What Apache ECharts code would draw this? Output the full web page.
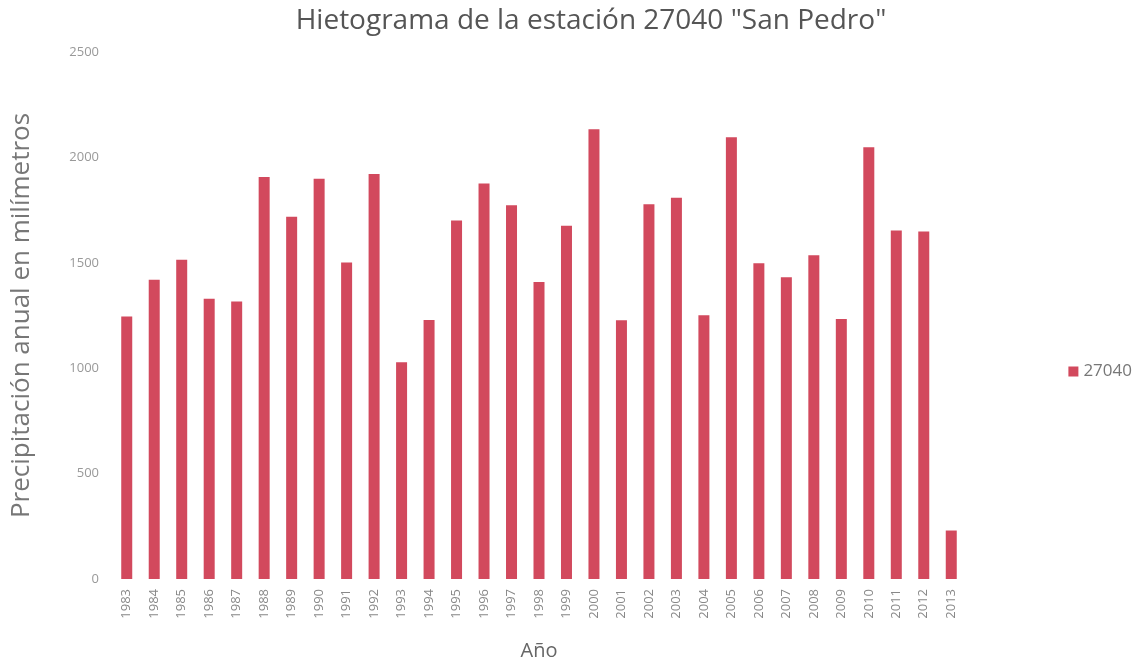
<!DOCTYPE html>
<html>
<head>
<meta charset="utf-8">
<script src="https://cdn.jsdelivr.net/npm/echarts@6/dist/echarts.min.js"></script>
<style>
  html, body { margin: 0; padding: 0; background: #fff; }
  #chart { width: 1147px; height: 667px; }
</style>
</head>
<body>
<div id="chart"></div>
<script>
var years = ['1983', '1984', '1985', '1986', '1987', '1988', '1989', '1990', '1991', '1992',
  '1993', '1994', '1995', '1996', '1997', '1998', '1999', '2000', '2001', '2002',
  '2003', '2004', '2005', '2006', '2007', '2008', '2009', '2010', '2011', '2012', '2013'];
var precip27040 = [1245, 1419, 1514, 1329, 1316, 1907, 1718, 1899, 1501, 1921,
  1028, 1229, 1701, 1876, 1773, 1409, 1676, 2133, 1227, 1778,
  1808, 1251, 2095, 1498, 1432, 1536, 1233, 2048, 1653, 1649, 230];
var yTicks = [0, 500, 1000, 1500, 2000, 2500];

var font = '"Open Sans", "Liberation Sans", sans-serif';
var chart = echarts.init(document.getElementById('chart'), null, { renderer: 'canvas' });
chart.setOption({
  animation: false,
  title: {
    text: 'Hietograma de la estación 27040 "San Pedro"',
    left: 586,
    textAlign: 'center',
    top: 2,
    textStyle: { color: '#555', fontSize: 28, fontWeight: 'normal', fontFamily: font }
  },
  legend: {
    right: 10,
    top: 358,
    orient: 'vertical',
    icon: 'rect',
    itemWidth: 10,
    itemHeight: 10,
    textStyle: { color: '#777', fontSize: 17, fontFamily: font }
  },
  grid: { left: 113, right: 182, top: 52, bottom: 88 },
  xAxis: {
    type: 'category',
    data: years,
    name: 'Año',
    nameLocation: 'middle',
    nameGap: 62,
    nameTextStyle: { color: '#666', fontSize: 20, fontFamily: font },
    axisLine: { show: false },
    axisTick: { show: false },
    axisLabel: { rotate: 90, interval: 0, margin: 10, color: '#888', fontSize: 13, fontFamily: font }
  },
  yAxis: {
    type: 'value',
    min: yTicks[0],
    max: yTicks[yTicks.length - 1],
    interval: 500,
    name: 'Precipitación anual en milímetros',
    nameLocation: 'middle',
    nameGap: 78,
    nameTextStyle: { color: '#777', fontSize: 26, fontFamily: font },
    axisLine: { show: false },
    axisTick: { show: false },
    splitLine: { show: false },
    axisLabel: {
      margin: 14, color: '#999', fontSize: 13, fontFamily: font,
      formatter: function(v) { return String(v); }
    }
  },
  series: [{
    name: '27040',
    type: 'bar',
    data: precip27040,
    barWidth: 11,
    itemStyle: { color: '#d2495d' }
  }]
});
window.addEventListener('resize', function() { chart.resize(); });
</script>
</body>
</html>
